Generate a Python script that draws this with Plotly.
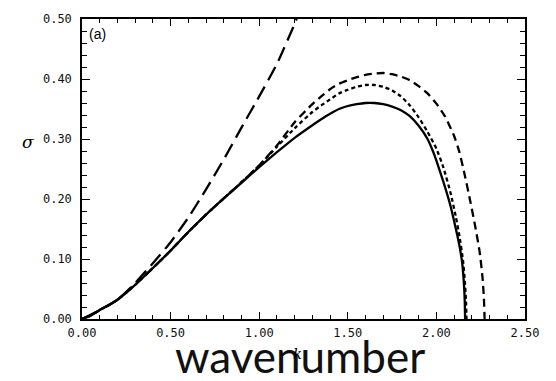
import plotly.graph_objects as go

# Growth rate sigma versus wavenumber k for four model variants
k_solid = [0.0, 0.05, 0.1, 0.15, 0.2, 0.3, 0.4, 0.5, 0.6, 0.7, 0.8, 0.9, 1.0,
           1.1, 1.2, 1.3, 1.35, 1.4, 1.45, 1.5, 1.55, 1.6, 1.65, 1.7, 1.75, 1.8,
           1.85, 1.9, 1.95, 1.98, 2.0, 2.04, 2.08, 2.11, 2.13, 2.145, 2.155,
           2.16, 2.162]
s_solid = [0.0, 0.006, 0.015, 0.023, 0.032, 0.057, 0.085, 0.114, 0.145, 0.174,
           0.201, 0.227, 0.253, 0.278, 0.302, 0.323, 0.333, 0.342, 0.350, 0.355,
           0.358, 0.360, 0.360, 0.358, 0.354, 0.348, 0.338, 0.322, 0.300, 0.280,
           0.264, 0.228, 0.188, 0.150, 0.122, 0.095, 0.060, 0.030, 0.0]

k_short = [0.0, 0.05, 0.1, 0.15, 0.2, 0.3, 0.4, 0.5, 0.6, 0.7, 0.8, 0.9, 1.0,
           1.1, 1.2, 1.3, 1.35, 1.4, 1.45, 1.5, 1.55, 1.6, 1.65, 1.7, 1.75, 1.8,
           1.85, 1.9, 1.95, 2.0, 2.04, 2.08, 2.11, 2.13, 2.15, 2.16, 2.167, 2.17]
s_short = [0.0, 0.006, 0.015, 0.023, 0.032, 0.057, 0.085, 0.114, 0.145, 0.174,
           0.201, 0.228, 0.256, 0.287, 0.318, 0.345, 0.356, 0.366, 0.376, 0.382,
           0.387, 0.390, 0.390, 0.387, 0.381, 0.371, 0.356, 0.336, 0.312, 0.284,
           0.252, 0.210, 0.170, 0.138, 0.098, 0.065, 0.030, 0.0]

k_long = [0.0, 0.05, 0.1, 0.15, 0.2, 0.3, 0.4, 0.5, 0.6, 0.7, 0.8, 0.9, 1.0,
          1.1, 1.2, 1.3, 1.35, 1.4, 1.45, 1.5, 1.55, 1.6, 1.65, 1.7, 1.75, 1.8,
          1.85, 1.9, 1.95, 2.0, 2.05, 2.1, 2.13, 2.16, 2.19, 2.22, 2.245, 2.26,
          2.268, 2.272]
s_long = [0.0, 0.006, 0.015, 0.023, 0.032, 0.057, 0.085, 0.114, 0.145, 0.174,
          0.201, 0.228, 0.256, 0.289, 0.328, 0.358, 0.371, 0.383, 0.392, 0.398,
          0.403, 0.407, 0.409, 0.410, 0.408, 0.404, 0.398, 0.388, 0.376, 0.359,
          0.337, 0.305, 0.278, 0.240, 0.198, 0.153, 0.110, 0.070, 0.035, 0.0]

k_steep = [0.0, 0.1, 0.2, 0.3, 0.4, 0.5, 0.6, 0.7, 0.8, 0.9, 1.0, 1.1, 1.2, 1.25]
s_steep = [0.0, 0.015, 0.032, 0.060, 0.093, 0.128, 0.169, 0.216, 0.266, 0.319,
           0.371, 0.425, 0.492, 0.530]

x_ticks = [0.0, 0.5, 1.0, 1.5, 2.0, 2.5]
y_ticks = [0.0, 0.1, 0.2, 0.3, 0.4, 0.5]

fig = go.Figure()

line_w = 2.3
curves = [
    (k_steep, s_steep, "15px,7px"),
    (k_long, s_long, "8px,5px"),
    (k_short, s_short, "4px,3px"),
    (k_solid, s_solid, "solid"),
]
for kx, sy, dash in curves:
    fig.add_trace(go.Scatter(x=kx, y=sy, mode="lines",
                             line=dict(color="black", width=line_w, dash=dash,
                                       shape="spline", smoothing=0.5)))

tick_font = dict(family="DejaVu Sans Mono", size=12, color="#111")

fig.update_xaxes(
    range=[0, 2.5], tickvals=x_ticks, ticktext=[f"{v:.2f}" for v in x_ticks],
    ticks="inside", ticklen=7, tickwidth=1.3, tickcolor="black",
    minor=dict(dtick=0.1, ticks="inside", ticklen=4, tickwidth=1.1,
               tickcolor="black", showgrid=False),
    showline=True, linecolor="black", linewidth=1.5, mirror="allticks",
    showgrid=False, zeroline=False, tickfont=tick_font, ticklabelstandoff=2,
)
fig.update_yaxes(
    range=[0, 0.5], tickvals=y_ticks, ticktext=[f"{v:.2f}" for v in y_ticks],
    ticks="inside", ticklen=8, tickwidth=1.3, tickcolor="black",
    minor=dict(dtick=0.02, ticks="inside", ticklen=5, tickwidth=1.1,
               tickcolor="black", showgrid=False),
    showline=True, linecolor="black", linewidth=1.5, mirror="allticks",
    showgrid=False, zeroline=False, tickfont=tick_font, ticklabelstandoff=6,
)

fig.add_annotation(text="(a)", xref="paper", yref="paper", x=0.012, y=0.985,
                   xanchor="left", yanchor="top", showarrow=False,
                   font=dict(family="Liberation Sans", size=14, color="black"))
fig.add_annotation(text="<i>σ</i>", xref="paper", yref="paper", x=-0.122, y=0.59,
                   xanchor="center", yanchor="middle", showarrow=False,
                   font=dict(family="DejaVu Serif", size=17, color="black"))
fig.add_annotation(text="wavenumber", xref="paper", yref="paper", x=0.493, y=-0.122,
                   xanchor="center", yanchor="middle", showarrow=False,
                   font=dict(family="Lato", size=44, color="#111"))
fig.add_annotation(text="<i>k</i>", xref="paper", yref="paper", x=0.487, y=-0.08,
                   xanchor="center", yanchor="top", showarrow=False,
                   font=dict(family="DejaVu Serif", size=15, color="black"))

fig.update_layout(
    width=556, height=381, showlegend=False,
    margin=dict(l=82, r=31, t=15, b=62),
    paper_bgcolor="white", plot_bgcolor="white",
)

fig.write_html("out.html")
